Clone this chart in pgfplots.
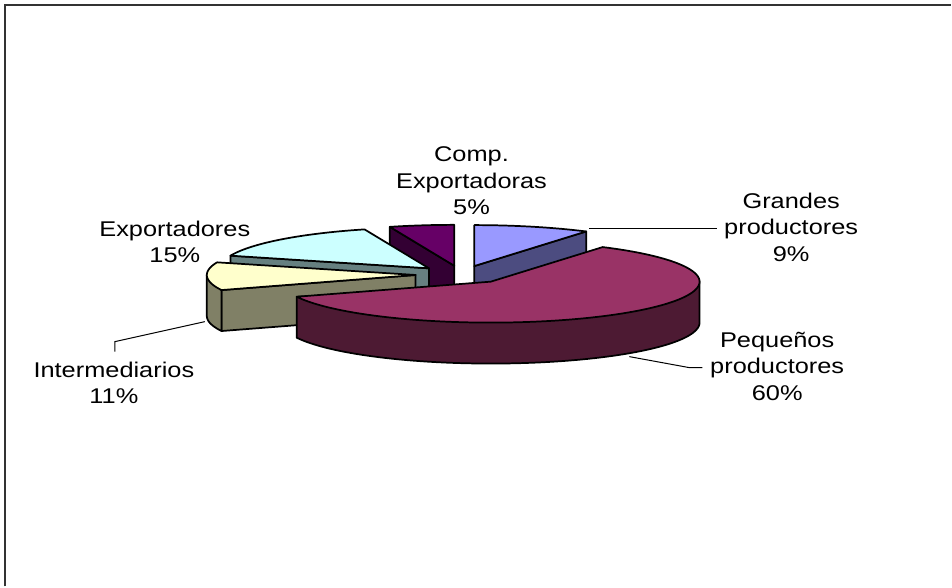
\documentclass[border=0pt]{standalone}
\usepackage{pgfplots}
\pgfplotsset{compat=1.18}
\usepackage{pgfplotstable}
\usepackage{fontspec}
\setmainfont{Liberation Sans}
\usepackage{graphicx}

\definecolor{topG}{HTML}{9999FF}\definecolor{sideG}{HTML}{4C4C80}
\definecolor{topP}{HTML}{993366}\definecolor{sideP}{HTML}{4D1A33}
\definecolor{topI}{HTML}{FFFFCC}\definecolor{sideI}{HTML}{808066}
\definecolor{topE}{HTML}{CCFFFF}\definecolor{sideE}{HTML}{668080}
\definecolor{topC}{HTML}{660066}\definecolor{sideC}{HTML}{330033}

% shares of the pie (percent), clockwise from 12 o'clock
\pgfplotstableread{
key value
G 9
P 60
I 11
E 15
C 5
}\piedata

\newcommand\lab[1]{\fontsize{16}{19.9}\selectfont\scalebox{1.19}[1]{\begin{tabular}{@{}c@{}}#1\end{tabular}}}

\begin{document}
\begin{tikzpicture}
\pgfplotstablegetelem{0}{value}\of\piedata\edef\vG{\pgfplotsretval}
\pgfplotstablegetelem{1}{value}\of\piedata\edef\vP{\pgfplotsretval}
\pgfplotstablegetelem{2}{value}\of\piedata\edef\vI{\pgfplotsretval}
\pgfplotstablegetelem{3}{value}\of\piedata\edef\vE{\pgfplotsretval}
\pgfplotstablegetelem{4}{value}\of\piedata\edef\vC{\pgfplotsretval}
\def\pcx{462}\def\pcy{275}\def\prx{209}\def\pry{41}\def\pdep{41}\def\pex{0.22}
\def\plw{1.3pt}
% angles
\pgfmathsetmacro\sG{90}
\pgfmathsetmacro\eG{\sG-3.6*\vG}
\pgfmathsetmacro\sP{\eG}\pgfmathsetmacro\eP{\sP-3.6*\vP}
\pgfmathsetmacro\sI{\eP}\pgfmathsetmacro\eI{\sI-3.6*\vI}
\pgfmathsetmacro\sE{\eI}\pgfmathsetmacro\eE{\sE-3.6*\vE}
\pgfmathsetmacro\sC{\eE}\pgfmathsetmacro\eC{\sC-3.6*\vC}
% apex of each exploded slice
\pgfmathsetmacro\axG{\pcx+\pex*\prx*cos((\sG+\eG)/2)}\pgfmathsetmacro\ayG{\pcy-\pex*\pry*sin((\sG+\eG)/2)}
\pgfmathsetmacro\axP{\pcx+\pex*\prx*cos((\sP+\eP)/2)}\pgfmathsetmacro\ayP{\pcy-\pex*\pry*sin((\sP+\eP)/2)}
\pgfmathsetmacro\axI{\pcx+\pex*\prx*cos((\sI+\eI)/2)}\pgfmathsetmacro\ayI{\pcy-\pex*\pry*sin((\sI+\eI)/2)}
\pgfmathsetmacro\axE{\pcx+\pex*\prx*cos((\sE+\eE)/2)}\pgfmathsetmacro\ayE{\pcy-\pex*\pry*sin((\sE+\eE)/2)}
\pgfmathsetmacro\axC{\pcx+\pex*\prx*cos((\sC+\eC)/2)}\pgfmathsetmacro\ayC{\pcy-\pex*\pry*sin((\sC+\eC)/2)}
\pgfmathsetmacro\ayGb{\ayG+\pdep}\pgfmathsetmacro\ayIb{\ayI+\pdep}
\pgfmathsetmacro\ayEb{\ayE+\pdep}\pgfmathsetmacro\ayCb{\ayC+\pdep}
% outer points of the visible cut faces
\pgfmathsetmacro\gx{\axG+\prx*cos(\eG)}\pgfmathsetmacro\gy{\ayG-\pry*sin(\eG)}\pgfmathsetmacro\gyb{\gy+\pdep}
\pgfmathsetmacro\ix{\axI+\prx*cos(\sI)}\pgfmathsetmacro\iy{\ayI-\pry*sin(\sI)}\pgfmathsetmacro\iyb{\iy+\pdep}
\pgfmathsetmacro\exx{\axE+\prx*cos(\sE)}\pgfmathsetmacro\exy{\ayE-\pry*sin(\sE)}\pgfmathsetmacro\exyb{\exy+\pdep}
\pgfmathsetmacro\ccx{\axC+\prx*cos(\sC)}\pgfmathsetmacro\ccy{\ayC-\pry*sin(\sC)}\pgfmathsetmacro\ccyb{\ccy+\pdep}
% side end points
\pgfmathsetmacro\pRx{\axP+\prx}
\pgfmathsetmacro\pLx{\axP+\prx*cos(\eP)}\pgfmathsetmacro\pLy{\ayP-\pry*sin(\eP)}
\pgfmathsetmacro\iLx{\axI-\prx}
\begin{axis}[
  width=714pt, height=440.25pt, scale only axis,
  xmin=0, xmax=952, ymin=0, ymax=587, y dir=reverse,
  axis line style={draw=none}, ticks=none, clip=false,
  every axis plot/.append style={line join=round},
]
\path (axis cs:0,0) rectangle (axis cs:952,587);
% frame
\draw[black!80, line width=1.5pt] (axis cs:5.5,587) -- (axis cs:5.5,5) -- (axis cs:952,5);

% --- Comp. Exportadoras
\addplot[fill=sideC, draw=black, line width=\plw] coordinates {(\axC,\ayC) (\ccx,\ccy) (\ccx,\ccyb) (\axC,\ayCb)} -- cycle;
\addplot[fill=topC, draw=black, line width=\plw, domain=\eC:\sC, samples=20] ({\axC+\prx*cos(x)},{\ayC-\pry*sin(x)}) -- (axis cs:\axC,\ayC) -- cycle;
% --- Grandes productores
\addplot[fill=sideG, draw=black, line width=\plw] coordinates {(\axG,\ayG) (\gx,\gy) (\gx,\gyb) (\axG,\ayGb)} -- cycle;
\addplot[fill=topG, draw=black, line width=\plw, domain=\eG:\sG, samples=30] ({\axG+\prx*cos(x)},{\ayG-\pry*sin(x)}) -- (axis cs:\axG,\ayG) -- cycle;
% --- Exportadores
\addplot[fill=sideE, draw=black, line width=\plw] coordinates {(\axE,\ayE) (\exx,\exy) (\exx,\exyb) (\axE,\ayEb)} -- cycle;
\addplot[fill=topE, draw=black, line width=\plw, domain=\eE:\sE, samples=40] ({\axE+\prx*cos(x)},{\ayE-\pry*sin(x)}) -- (axis cs:\axE,\ayE) -- cycle;
% --- Intermediarios
\addplot[fill=sideI, draw=black, line width=\plw] coordinates {(\axI,\ayI) (\ix,\iy) (\ix,\iyb) (\axI,\ayIb)} -- cycle;
\addplot[fill=sideI, draw=black, line width=\plw, domain=-180:\sI, samples=20] ({\axI+\prx*cos(x)},{\ayI-\pry*sin(x)+\pdep}) -- (axis cs:\ix,\iy) -- (axis cs:\iLx,\ayI) -- cycle;
\addplot[fill=topI, draw=black, line width=\plw, domain=\eI:\sI, samples=40] ({\axI+\prx*cos(x)},{\ayI-\pry*sin(x)}) -- (axis cs:\axI,\ayI) -- cycle;
% --- Pequenos productores
\addplot[fill=sideP, draw=black, line width=\plw, domain=\eP:0, samples=80] ({\axP+\prx*cos(x)},{\ayP-\pry*sin(x)+\pdep}) -- (axis cs:\pRx,\ayP) -- (axis cs:\pLx,\pLy) -- cycle;
\addplot[fill=topP, draw=black, line width=\plw, domain=\eP:\sP, samples=120] ({\axP+\prx*cos(x)},{\ayP-\pry*sin(x)}) -- (axis cs:\axP,\ayP) -- cycle;

% leader lines
\draw[black, line width=0.75pt] (axis cs:590,229) -- (axis cs:718,229);
\draw[black, line width=0.75pt] (axis cs:630,357) -- (axis cs:690,368) -- (axis cs:703,368);
\draw[black, line width=0.75pt] (axis cs:205,322) -- (axis cs:115,342) -- (axis cs:115,352);

% labels
\node[inner sep=0pt] at (axis cs:472,183.3) {\lab{Comp.\\Exportadoras\\5\%}};
\node[inner sep=0pt] at (axis cs:175,244.7) {\lab{Exportadores\\15\%}};
\node[inner sep=0pt] at (axis cs:792,229.7) {\lab{Grandes\\productores\\9\%}};
\node[inner sep=0pt] at (axis cs:778,368.9) {\lab{Peque\~nos\\productores\\60\%}};
\node[inner sep=0pt] at (axis cs:114,385.7) {\lab{Intermediarios\\11\%}};
\end{axis}
\end{tikzpicture}
\end{document}
